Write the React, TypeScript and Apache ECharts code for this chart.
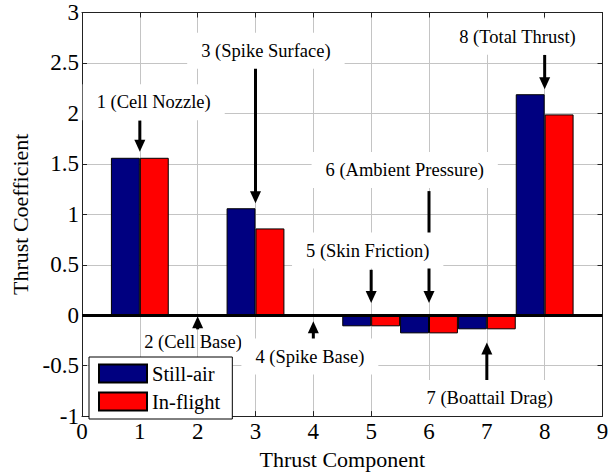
import React, { useEffect, useRef } from "react";
import * as echarts from "echarts";

const categories = [1, 2, 3, 4, 5, 6, 7, 8];
const stillAir = [1.56, 0, 1.06, 0, -0.11, -0.18, -0.14, 2.19];
const inFlight = [1.56, 0, 0.86, 0, -0.11, -0.18, -0.14, 1.99];

const annotationLabels = [
  "1 (Cell Nozzle)",
  "2 (Cell Base)",
  "3 (Spike Surface)",
  "4 (Spike Base)",
  "5 (Skin Friction)",
  "6 (Ambient Pressure)",
  "7 (Boattail Drag)",
  "8 (Total Thrust)",
];
const labelX = [1.24, 1.92, 3.18, 3.94, 4.94, 5.58, 7.05, 7.53];
const labelY = [2.11, -0.27, 2.62, -0.41, 0.64, 1.44, -0.82, 2.76];
const arrowTailY = [1.93, -0.14, 2.46, -0.27, 0.45, 1.23, -0.69, 2.58];
const arrowTipY = [1.62, -0.01, 1.11, -0.06, 0.12, 0.12, -0.27, 2.24];
const labelBoxed = [true, false, true, true, true, true, true, true];

const FONT = "Liberation Serif, Times New Roman, serif";

export default function App() {
  const ref = useRef<HTMLDivElement>(null);
  useEffect(() => {
    if (!ref.current) return;
    const chart = echarts.init(ref.current, null, { renderer: "svg" });
    const gridLeft = 82;
    const gridRight = 13.5;
    const plotWidth = 616 - gridLeft - gridRight;
    const barW = (plotWidth / 9) * 0.5;

    const axisCommon = {
      type: "value" as const,
      axisLine: { show: true, onZero: false, lineStyle: { color: "#222", width: 1 } },
      axisTick: { show: true, inside: true, length: 5, lineStyle: { color: "#222" } },
    };

    const option: any = {
      animation: false,
      textStyle: { fontFamily: FONT, color: "#000" },
      grid: { left: gridLeft, right: gridRight, top: 12.5, bottom: 55, containLabel: false },
      legend: {
        data: ["Still-air", "In-flight"],
        orient: "vertical",
        left: 89,
        top: 357,
        backgroundColor: "#fff",
        borderColor: "#000",
        borderWidth: 1,
        padding: [6, 12, 7, 9],
        itemWidth: 48,
        itemHeight: 18,
        itemGap: 7,
        icon: "rect",
        textStyle: { fontSize: 20.5, color: "#000", fontFamily: FONT },
        z: 20,
      },
      xAxis: [
        {
          ...axisCommon,
          min: 0,
          max: 9,
          interval: 1,
          position: "bottom",
          axisLabel: { fontSize: 23, color: "#000", margin: 4, fontFamily: FONT },
          splitLine: { show: true, lineStyle: { color: "#c4c4c4", width: 1 } },
          name: "Thrust Component",
          nameLocation: "middle",
          nameGap: 27,
          nameTextStyle: { fontSize: 22, color: "#000", fontFamily: FONT },
        },
        {
          ...axisCommon,
          min: 0,
          max: 9,
          interval: 1,
          position: "top",
          axisLabel: { show: false },
          splitLine: { show: false },
        },
      ],
      yAxis: [
        {
          ...axisCommon,
          min: -1,
          max: 3,
          interval: 0.5,
          position: "left",
          axisLabel: { fontSize: 23, color: "#000", margin: 3, fontFamily: FONT },
          splitLine: { show: true, lineStyle: { color: "#c4c4c4", width: 1 } },
          name: "Thrust Coefficient",
          nameLocation: "middle",
          nameRotate: 90,
          nameGap: 48,
          nameTextStyle: { fontSize: 22, color: "#000", fontFamily: FONT },
        },
        {
          ...axisCommon,
          min: -1,
          max: 3,
          interval: 0.5,
          position: "right",
          axisLabel: { show: false },
          splitLine: { show: false },
        },
      ],
      series: [
        {
          name: "Still-air",
          type: "bar",
          data: categories.map((c, i) => [c, stillAir[i]]),
          barWidth: barW,
          barGap: "0%",
          itemStyle: { color: "#000080", borderColor: "#000", borderWidth: 1 },
          markLine: {
            silent: true,
            symbol: "none",
            label: { show: false },
            lineStyle: { color: "#000", width: 3, type: "solid" },
            data: [{ yAxis: 0 }],
            z: 5,
          },
        },
        {
          name: "In-flight",
          type: "bar",
          data: categories.map((c, i) => [c, inFlight[i]]),
          barWidth: barW,
          barGap: "0%",
          itemStyle: { color: "#ff0000", borderColor: "#000", borderWidth: 1 },
        },
        {
          type: "custom",
          coordinateSystem: "cartesian2d",
          silent: true,
          z: 10,
          data: categories.map((c, i) => [labelX[i], labelY[i], c]),
          renderItem: (params: any, api: any) => {
            const i = params.dataIndex;
            const [lx, ly] = api.coord([labelX[i], labelY[i]]);
            const [ax, ty] = api.coord([categories[i], arrowTailY[i]]);
            const [, py] = api.coord([categories[i], arrowTipY[i]]);
            const dir = py > ty ? 1 : -1;
            const headLen = 12;
            const headHalf = 5.5;
            const baseY = py - dir * headLen;
            return {
              type: "group",
              children: [
                {
                  type: "line",
                  z2: 1,
                  shape: { x1: ax, y1: ty, x2: ax, y2: baseY + dir * 1 },
                  style: { stroke: "#000", lineWidth: 3 },
                },
                {
                  type: "polygon",
                  z2: 1,
                  shape: {
                    points: [
                      [ax - headHalf, baseY],
                      [ax + headHalf, baseY],
                      [ax, py],
                    ],
                  },
                  style: { fill: "#000" },
                },
                {
                  type: "text",
                  z2: 10,
                  x: lx,
                  y: ly,
                  style: {
                    text: annotationLabels[i],
                    fontFamily: FONT,
                    fontSize: 18.5,
                    lineHeight: 20,
                    fill: "#000",
                    align: "center",
                    verticalAlign: "middle",
                    backgroundColor: labelBoxed[i] ? "#fff" : "transparent",
                    padding: [8, 14],
                  },
                },
              ],
            };
          },
        },
      ],
    };
    chart.setOption(option);
    return () => chart.dispose();
  }, []);
  return (
    <div
      ref={ref}
      style={{ position: "fixed", left: 0, top: 0, width: 616, height: 475, background: "#fff" }}
    />
  );
}
